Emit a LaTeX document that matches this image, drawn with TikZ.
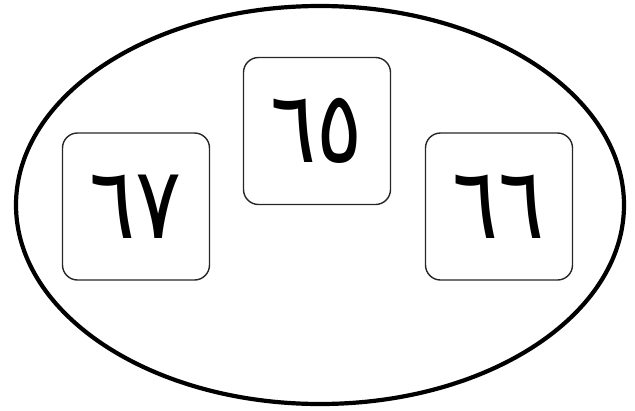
\documentclass[tikz,border=0pt]{standalone}
\usepackage{fontspec}
\newfontfamily\arabicfont[Script=Arabic, FakeStretch=0.86]{DejaVu Sans}
\usetikzlibrary{positioning}

\begin{document}
\begin{tikzpicture}[x=1pt, y=-1pt,
  plate/.style={draw=black!85, line width=1.4pt, rounded corners=15pt,
    minimum width=147pt, minimum height=147pt, inner sep=0pt,
    font=\arabicfont\fontsize{100}{100}\selectfont}]
  \useasboundingbox (0,0) rectangle (635,410);
  \draw[line width=4.2pt] (320,205) ellipse [x radius=304, y radius=199];
  % the three plates
  \node[plate] (left)   at (136,206.5) {٦٧};
  \node[plate] (middle) at (317,131)   {٦٥};
  \node[plate] (right)  at (499,206.5) {٦٦};
\end{tikzpicture}
\end{document}
